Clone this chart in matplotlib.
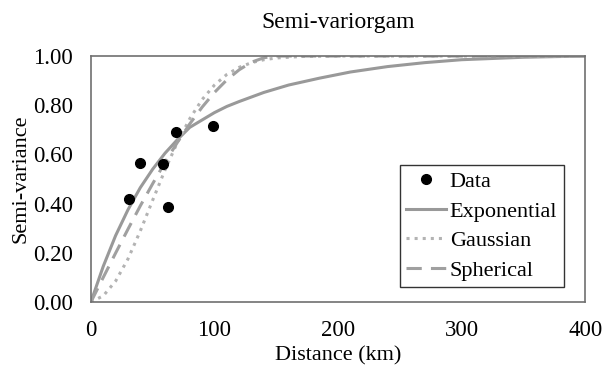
import matplotlib.pyplot as plt

plt.rcParams['font.family'] = ['Liberation Serif', 'DejaVu Serif']

# observed semi-variance
data_x = [30.5, 39.5, 58, 62.5, 69, 99]
data_y = [0.42, 0.564, 0.561, 0.387, 0.692, 0.715]

# fitted models
exp_x = [0, 10, 20, 30, 40, 50, 60, 70, 80, 90, 100, 110, 120, 140, 160,
         185, 210, 240, 270, 300, 350, 400]
exp_y = [0, 0.145, 0.27, 0.375, 0.465, 0.54, 0.605, 0.66, 0.71, 0.74, 0.77,
         0.795, 0.815, 0.852, 0.882, 0.91, 0.935, 0.957, 0.973, 0.985, 0.995, 1.0]

gau_x = [0, 10, 20, 30, 40, 50, 60, 70, 80, 90, 100, 110, 120, 130, 140, 150, 170, 200, 400]
gau_y = [0, 0.025, 0.085, 0.175, 0.289, 0.414, 0.537, 0.649, 0.745, 0.823, 0.882,
         0.925, 0.954, 0.973, 0.985, 0.992, 0.998, 1.0, 1.0]

sph_x = [0, 10, 20, 30, 40, 50, 60, 70, 80, 90, 100, 110, 120, 130, 140, 150, 400]
sph_y = [0, 0.100, 0.199, 0.296, 0.391, 0.481, 0.568, 0.649, 0.724, 0.792, 0.852,
         0.903, 0.944, 0.975, 0.993, 1.0, 1.0]

fig = plt.figure(figsize=(6.02, 3.71), dpi=100)
ax = fig.add_axes([0.151, 0.186, 0.821, 0.663])

ax.plot(data_x, data_y, 'o', color='black', ms=7, label='Data', zorder=5)
ax.plot(exp_x, exp_y, '-', color='#999999', lw=2.2, label='Exponential')
ax.plot(gau_x, gau_y, ':', color='#b3b3b3', lw=2.2, label='Gaussian')
ax.plot(sph_x, sph_y, '--', color='#a0a0a0', lw=2.2, dashes=(5, 3), label='Spherical')

ax.set_xlim(0, 400)
ax.set_ylim(0, 1)
ax.set_xticks([0, 100, 200, 300, 400])
ax.set_yticks([0, 0.2, 0.4, 0.6, 0.8, 1.0])
ax.set_yticklabels(['0.00', '0.20', '0.40', '0.60', '0.80', '1.00'])
ax.tick_params(length=0, labelsize=16.5, pad=13)
for s in ax.spines.values():
    s.set_color('#707070')
    s.set_linewidth(1.2)

ax.set_title('Semi-variorgam', fontsize=17, pad=20)
ax.set_xlabel('Distance (km)', fontsize=16)
ax.set_ylabel('Semi-variance', fontsize=16, labelpad=2)

leg = ax.legend(loc='upper right', bbox_to_anchor=(0.957, 0.557), borderaxespad=0,
                fontsize=16, fancybox=False, frameon=True, handlelength=1.8,
                handletextpad=0.15, labelspacing=0.4, borderpad=0.3)
leg.get_frame().set_edgecolor('black')
leg.get_frame().set_linewidth(1.0)

fig.savefig('out.png', dpi=100)
